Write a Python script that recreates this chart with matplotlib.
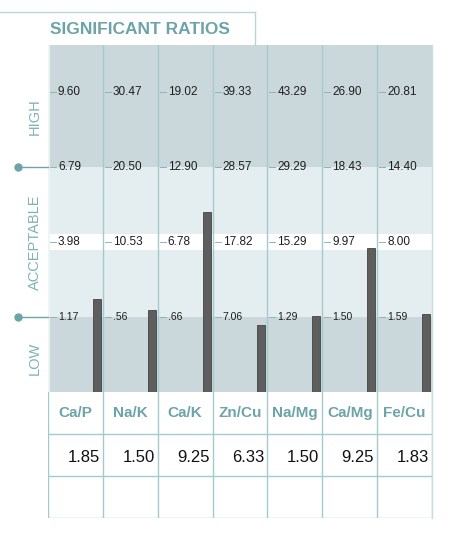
import numpy as np
import matplotlib.pyplot as plt
from matplotlib.lines import Line2D

# data
ratios = ['Ca/P', 'Na/K', 'Ca/K', 'Zn/Cu', 'Na/Mg', 'Ca/Mg', 'Fe/Cu']
results = [1.85, 1.50, 9.25, 6.33, 1.50, 9.25, 1.83]
low_limit = [1.17, 0.56, 0.66, 7.06, 1.29, 1.50, 1.59]
mid_value = [3.98, 10.53, 6.78, 17.82, 15.29, 9.97, 8.00]
high_limit = [6.79, 20.50, 12.90, 28.57, 29.29, 18.43, 14.40]
top_value = [9.60, 30.47, 19.02, 39.33, 43.29, 26.90, 20.81]
zones = ['LOW', 'ACCEPTABLE', 'HIGH']

NARROW = ['Liberation Sans Narrow', 'Liberation Sans', 'DejaVu Sans']
REG = ['Liberation Sans', 'DejaVu Sans']

teal = '#6ca4aa'
band_dark = '#cad8db'
band_light = '#e4eef0'
grid = '#a5cacd'
bar_col = '#5e5e5e'

W, H = 452, 542
fig = plt.figure(figsize=(W / 100, H / 100), dpi=100)

def fx(px):
    return px / W

def fy(py):
    return 1 - py / H

# chart axes: x in columns, y in "levels" (0 bottom, 1 low, 2 mid, 3 high, 4 top)
ax = fig.add_axes([fx(48), fy(392), fx(432) - fx(48), fy(45) - fy(392)])
ymax = 347 / 75
ax.set_xlim(0, 7)
ax.set_ylim(0, ymax)
ax.axis('off')

ax.axhspan(0, 1, color=band_dark, lw=0)
ax.axhspan(1, 3, color=band_light, lw=0)
ax.axhspan(2 - 8 / 75, 2 + 8 / 75, color='white', lw=0)
ax.axhspan(3, ymax, color=band_dark, lw=0)

for i in range(1, 7):
    ax.axvline(i, color=grid, lw=1)
ax.axvline(0, color='#eef5f6', lw=2)

col_px = 384 / 7
tick_rows = [low_limit, mid_value, high_limit, top_value]
for lvl, row in enumerate(tick_rows, start=1):
    fs = 7.5 if lvl == 1 else 8.5
    for i, v in enumerate(row):
        ax.plot([i + 2 / col_px, i + 8 / col_px], [lvl, lvl], color='#8fb3b6', lw=0.7)
        lab = f'{v:.2f}'
        if lab.startswith('0'):
            lab = lab[1:]
        ax.text(i + 10 / col_px, lvl, lab, fontsize=fs, family=NARROW,
                color='#1e1e1e', va='center', ha='left')

levels = [np.interp(r, [0, lo, mi, hi, tp], [0, 1, 2, 3, 4])
          for r, lo, mi, hi, tp in zip(results, low_limit, mid_value, high_limit, top_value)]
x = np.arange(7) + 1 - 6 / col_px
ax.bar(x, levels, width=8 / col_px, color=bar_col, edgecolor='#444444', lw=0.6)

# zone labels and markers on the left
for lvl in (1, 3):
    ax.add_line(Line2D([-30 / col_px, 0], [lvl, lvl], color=teal, lw=1, clip_on=False))
    ax.plot(-30 / col_px, lvl, 'o', ms=5, color=teal, clip_on=False)
for name, yc in zip(zones, [0.45, 1.99, 3.67]):
    ax.text(-13 / col_px, yc, name, rotation=90, fontsize=10.5, family=NARROW,
            color='#7fb2b7', ha='center', va='center')

# table below
tab = fig.add_axes([fx(48), fy(518), fx(432) - fx(48), fy(392) - fy(518)])
tab.set_xlim(0, 7)
tab.set_ylim(0, 3)
tab.axis('off')
for yy in (0, 1, 2):
    tab.axhline(yy, color=grid, lw=1)
for i in range(0, 8):
    tab.axvline(i, color=grid, lw=1)
for i, (name, r) in enumerate(zip(ratios, results)):
    tab.text(i + 0.5, 2.5, name, fontsize=11, family=NARROW, weight='bold',
             color=teal, ha='center', va='center')
    tab.text(i + 1 - 3 / col_px, 1.45, f'{r:.2f}', fontsize=12, family=REG,
             color='#111111', ha='right', va='center')

# title frame
fig.add_artist(Line2D([0, fx(255)], [fy(12), fy(12)], color='#b9d5d8', lw=1))
fig.add_artist(Line2D([fx(255), fx(255)], [fy(12), fy(45)], color='#b9d5d8', lw=1))
fig.add_artist(Line2D([fx(432), fx(432)], [fy(45), fy(518)], color='#c7dfe1', lw=1))
fig.text(fx(50), fy(30), 'SIGNIFICANT RATIOS', fontsize=12.5, family=NARROW,
         weight='bold', color=teal, ha='left', va='center')

fig.savefig('out.png', dpi=100)
